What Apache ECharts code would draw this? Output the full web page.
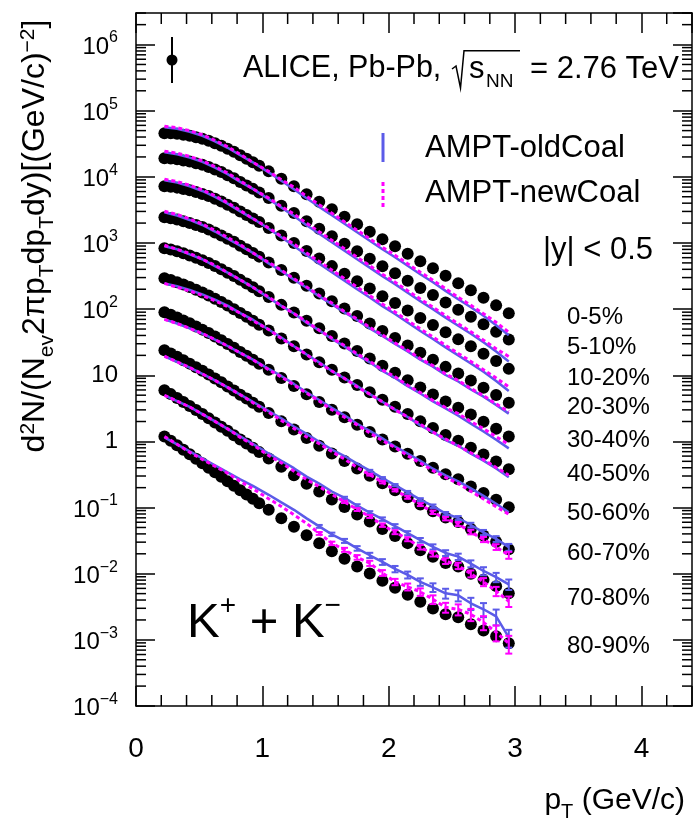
<!DOCTYPE html>
<html><head><meta charset="utf-8">
<script src="https://cdn.jsdelivr.net/npm/echarts@6/dist/echarts.min.js"></script>
<style>html,body{margin:0;padding:0;background:#fff}#c{width:695px;height:825px}</style>
</head><body><div id="c"></div>
<script>
// ---------------- data ----------------
const ptData = [0.225,0.275,0.325,0.375,0.425,0.475,0.525,0.575,0.625,0.675,0.725,0.775,0.825,0.875,0.925,0.975,1.05,1.15,1.25,1.35,1.45,1.55,1.65,1.75,1.85,1.95,2.05,2.15,2.25,2.35,2.45,2.55,2.65,2.75,2.85,2.95];
const ptModel = [0.225,0.325,0.425,0.525,0.625,0.725,0.825,0.925,1.05,1.15,1.25,1.35,1.45,1.55,1.65,1.75,1.85,1.95,2.05,2.15,2.25,2.35,2.45,2.55,2.65,2.75,2.85,2.95];
const centralityLabels = ['0-5%','5-10%','10-20%','20-30%','30-40%','40-50%','50-60%','60-70%','70-80%','80-90%'];
const xTickLabels = ['0','1','2','3','4'];
const yTickExponents = [-4,-3,-2,-1,0,1,2,3,4,5,6];

const alice_0_5 = [45600,45600,44800,43300,41800,39700,37700,35200,32200,29500,26600,23900,21200,18700,16600,14700,12100,9350,7210,5460,4200,3240,2490,1920,1480,1140,893,687,530,415,319,246,193,149,114,86.7];
const alice_5_10 = [19100,19000,18500,17700,17000,16100,15200,14100,12900,11800,10600,9510,8390,7410,6580,5810,4780,3670,2830,2140,1640,1260,975,750,579,446,350,269,208,163,126,97.7,76.6,59.2,45.6,34.7];
const alice_10_20 = [7210,7100,6870,6560,6270,5890,5520,5120,4660,4240,3790,3400,3000,2650,2340,2070,1690,1300,1000,755,581,447,344,265,205,157,124,95.3,73.5,57.7,44.6,34.9,27.4,21.2,16.4,12.5];
const alice_20_30 = [2450,2370,2260,2140,2010,1870,1740,1600,1440,1300,1160,1040,910,804,708,622,509,390,299,225,173,132,102,78.5,60.8,46.8,36.6,28.3,21.9,17.2,13.4,10.6,8.34,6.50,5.05,3.85];
const alice_30_40 = [832,794,748,697,649,597,548,499,448,402,356,316,277,244,214,187,153,116,88.9,66.8,51.2,39.3,30.3,23.3,18.0,13.9,10.9,8.43,6.53,5.14,4.02,3.24,2.55,1.99,1.56,1.19];
const alice_40_50 = [292,275,255,235,216,197,179,161,144,128,113,99.8,87.1,76.6,66.8,58.3,47.5,36.1,27.4,20.6,15.7,12.1,9.29,7.14,5.55,4.27,3.35,2.59,2.01,1.59,1.25,1.02,0.804,0.632,0.497,0.381];
const alice_50_60 = [89.5,82.2,74.8,67.5,61.0,54.7,49.0,43.6,38.5,33.9,29.7,26.0,22.5,19.8,17.2,14.9,12.1,9.12,6.90,5.18,3.94,3.01,2.32,1.78,1.39,1.07,0.838,0.652,0.507,0.401,0.318,0.267,0.209,0.166,0.131,0.101];
const alice_60_70 = [23.9,21.4,19.1,16.9,15.0,13.2,11.7,10.3,8.95,7.82,6.79,5.89,5.09,4.45,3.85,3.33,2.68,2.01,1.51,1.13,0.861,0.655,0.505,0.388,0.303,0.233,0.183,0.143,0.111,0.0881,0.0705,0.0605,0.0474,0.0379,0.0303,0.0235];
const alice_70_80 = [5.93,5.19,4.53,3.94,3.44,2.99,2.59,2.24,1.94,1.67,1.45,1.24,1.07,0.933,0.802,0.689,0.552,0.413,0.309,0.230,0.175,0.132,0.102,0.0785,0.0615,0.0473,0.0371,0.0290,0.0227,0.0180,0.0145,0.0128,0.0100,0.00807,0.00649,0.00506];
const alice_80_90 = [1.19,1.02,0.873,0.746,0.638,0.546,0.467,0.399,0.341,0.292,0.249,0.213,0.182,0.158,0.136,0.116,0.0925,0.0687,0.0512,0.0380,0.0288,0.0218,0.0168,0.0129,0.0101,0.00780,0.00611,0.00480,0.00376,0.00299,0.00243,0.00219,0.00172,0.00139,0.00113,0.000885];

const oldCoal_0_5 = [56200,53300,48000,41800,34500,27500,21200,16600,11700,8730,6500,4750,3520,2620,1950,1450,1080,804,610,453,337,255,189,141,107,79.4,57.0,40.3];
const oldCoal_5_10 = [23600,22000,19500,16900,13800,11000,8390,6580,4610,3430,2550,1860,1380,1030,764,568,424,315,239,177,132,100,74.5,56.0,42.4,31.6,22.8,16.1];
const oldCoal_10_20 = [8890,8180,7190,6120,4990,3930,3000,2340,1640,1220,902,658,488,362,270,200,150,111,84.3,62.8,46.7,35.4,26.4,20.0,15.1,11.3,8.18,5.79];
const oldCoal_20_30 = [2920,2600,2230,1870,1490,1160,910,708,492,377,279,210,156,119,88.9,68.4,51.1,39.3,29.7,23.0,17.2,13.5,10.1,8.05,6.10,4.75,3.56,2.63];
const oldCoal_30_40 = [891,802,671,568,448,356,277,214,148,112,85.9,62.4,47.8,35.4,27.3,20.3,15.7,11.6,9.14,6.84,5.30,4.03,3.15,2.45,1.86,1.41,1.06,0.785];
const oldCoal_40_50 = [245,222,195,167,139,113,87.1,69.2,49.2,37.3,27.4,20.6,15.7,11.6,8.97,6.90,5.18,3.98,3.02,2.34,1.75,1.38,1.05,0.859,0.652,0.513,0.389,0.288];
const oldCoal_50_60 = [70.1,60.7,51.2,42.7,34.7,27.7,21.8,17.2,12.5,9.77,7.40,5.55,4.23,3.22,2.48,1.85,1.44,1.11,0.838,0.652,0.507,0.387,0.307,0.249,0.195,0.150,0.114,0.0851];
const oldCoal_60_70 = [19.4,16.0,13.1,10.5,8.36,6.56,5.09,3.98,2.87,2.23,1.68,1.30,0.989,0.752,0.601,0.462,0.361,0.278,0.218,0.170,0.132,0.105,0.0809,0.0695,0.0545,0.0421,0.0336,0.0252];
const oldCoal_70_80 = [4.98,4.08,3.32,2.59,2.01,1.55,1.19,0.920,0.658,0.509,0.394,0.294,0.231,0.175,0.140,0.107,0.0841,0.0670,0.0525,0.0411,0.0321,0.0255,0.0206,0.0181,0.0142,0.0110,0.00887,0.00692];
const oldCoal_80_90 = [1.15,0.904,0.708,0.556,0.436,0.341,0.267,0.213,0.156,0.120,0.0925,0.0687,0.0520,0.0394,0.0314,0.0242,0.0190,0.0151,0.0118,0.00962,0.00753,0.00622,0.00506,0.00471,0.00357,0.00290,0.00226,0.00109];

const newCoal_0_5 = [58200,55200,49800,43300,35700,28500,21900,16600,12100,9040,6970,5090,3780,2820,2090,1560,1160,861,653,485,361,274,203,151,114,85.1,63.2,44.8];
const newCoal_5_10 = [24400,22800,20300,17500,14300,11400,8690,6580,4780,3550,2740,2000,1480,1100,818,608,454,337,256,190,142,107,79.8,60.0,45.4,33.9,25.2,19.2];
const newCoal_10_20 = [9200,8470,7460,6340,5160,4060,3100,2340,1690,1260,966,705,524,389,289,215,160,119,90.4,67.3,50.1,38.0,28.3,21.4,16.2,12.1,9.08,6.67];
const newCoal_20_30 = [3020,2700,2310,1930,1550,1210,942,708,509,390,288,217,161,124,92.0,70.8,53.0,40.7,30.8,23.8,17.8,14.0,10.5,8.34,6.31,4.92,3.69,2.82];
const newCoal_30_40 = [923,802,695,568,463,356,277,214,153,112,85.9,64.6,47.8,36.6,28.2,21.0,16.3,12.1,9.48,7.08,5.48,4.17,3.26,2.63,2.00,1.56,1.18,0.902];
const newCoal_40_50 = [245,214,188,161,134,109,87.1,66.8,49.2,36.1,27.4,20.6,15.2,11.6,8.97,6.67,5.18,3.98,3.02,2.34,1.82,1.38,1.09,0.859,0.675,0.531,0.403,0.309];
const newCoal_50_60 = [70.1,60.7,51.2,42.7,34.7,27.7,21.8,17.2,12.1,9.44,7.14,5.36,4.08,3.01,2.32,1.78,1.34,1.03,0.809,0.608,0.473,0.361,0.286,0.232,0.176,0.135,0.103,0.0794];
const newCoal_60_70 = [19.4,16.0,13.1,10.5,8.36,6.56,5.09,3.85,2.77,2.08,1.57,1.17,0.923,0.702,0.541,0.402,0.314,0.242,0.183,0.143,0.111,0.0851,0.0681,0.0565,0.0428,0.0330,0.0254,0.0191];
const newCoal_70_80 = [4.98,4.08,3.32,2.59,2.01,1.55,1.15,0.889,0.612,0.474,0.355,0.264,0.208,0.158,0.122,0.0935,0.0733,0.0543,0.0426,0.0333,0.0252,0.0200,0.0156,0.0132,0.0100,0.00753,0.00545,0.00383];
const newCoal_80_90 = [1.19,0.904,0.684,0.536,0.421,0.330,0.249,0.192,0.136,0.104,0.0776,0.0577,0.0407,0.0288,0.0230,0.0177,0.0144,0.0103,0.00753,0.00634,0.00532,0.00409,0.00310,0.00289,0.00243,0.00184,0.00130,0.000885];

// relative statistical uncertainties of the model curves, per ptModel point
const modelRelErr_60_70 = [0,0,0,0,0,0,0,0,0,0,0,0,0,0,0,0,0.03,0.04,0.04,0.05,0.05,0.06,0.06,0.07,0.08,0.09,0.10,0.12];
const modelRelErr_70_80 = [0,0,0,0,0,0,0,0,0,0,0,0,0,0,0.04,0.05,0.05,0.06,0.07,0.07,0.08,0.09,0.10,0.11,0.12,0.14,0.16,0.18];
const modelRelErr_80_90 = [0,0,0,0,0,0,0,0,0,0,0,0,0.05,0.06,0.07,0.08,0.09,0.10,0.11,0.12,0.13,0.15,0.17,0.19,0.21,0.24,0.27,0.30];

// ---------------- build ----------------
const aliceSets = [alice_0_5,alice_5_10,alice_10_20,alice_20_30,alice_30_40,alice_40_50,alice_50_60,alice_60_70,alice_70_80,alice_80_90];
const oldSets = [oldCoal_0_5,oldCoal_5_10,oldCoal_10_20,oldCoal_20_30,oldCoal_30_40,oldCoal_40_50,oldCoal_50_60,oldCoal_60_70,oldCoal_70_80,oldCoal_80_90];
const newSets = [newCoal_0_5,newCoal_5_10,newCoal_10_20,newCoal_20_30,newCoal_30_40,newCoal_40_50,newCoal_50_60,newCoal_60_70,newCoal_70_80,newCoal_80_90];
const errSets = {7: modelRelErr_60_70, 8: modelRelErr_70_80, 9: modelRelErr_80_90};

const FF = '"Liberation Sans", Arial, Helvetica, sans-serif';
const BLUE = '#5b5be8';
const MAG = '#ff00ff';
const X_MIN = 0, X_MAX = 4.4, Y_MIN = 1e-4, Y_MAX = 3e6;

function rs(size, padBottom) {
  return {fontSize: size, fontFamily: FF, color: '#000', fill: '#000', verticalAlign: 'bottom', padding: [0, 0, padBottom || 0, 0]};
}

function errSeries(vals, rel, color, z) {
  const data = [];
  rel.forEach((r, i) => { if (r > 0) data.push([ptModel[i], vals[i], r]); });
  return {type: 'custom', data: data, z: z, silent: true, clip: false,
    renderItem: (p, api) => {
      const x = api.value(0), y = api.value(1), r = api.value(2);
      const a = api.coord([x, y * (1 + r)]), b = api.coord([x, y * (1 - r)]);
      const st = {stroke: color, lineWidth: 2};
      return {type: 'group', children: [
        {type: 'line', shape: {x1: a[0], y1: a[1], x2: b[0], y2: b[1]}, style: st},
        {type: 'line', shape: {x1: a[0] - 3.5, y1: a[1], x2: a[0] + 3.5, y2: a[1]}, style: st},
        {type: 'line', shape: {x1: b[0] - 3.5, y1: b[1], x2: b[0] + 3.5, y2: b[1]}, style: st}
      ]};
    }};
}

const series = [];
aliceSets.forEach((arr, k) => {
  series.push({type: 'scatter', name: 'ALICE ' + centralityLabels[k], data: ptData.map((x, i) => [x, arr[i]]),
    symbol: 'circle', symbolSize: 12, itemStyle: {color: '#000', opacity: 1}, z: 2, silent: true});
});
oldSets.forEach((arr, k) => {
  series.push({type: 'line', name: 'AMPT-oldCoal ' + centralityLabels[k], data: ptModel.map((x, i) => [x, arr[i]]),
    symbol: 'none', showSymbol: false, lineStyle: {color: BLUE, width: 2.5}, z: 3, silent: true});
  if (errSets[k]) series.push(errSeries(arr, errSets[k], BLUE, 3));
});
newSets.forEach((arr, k) => {
  series.push({type: 'line', name: 'AMPT-newCoal ' + centralityLabels[k], data: ptModel.map((x, i) => [x, arr[i]]),
    symbol: 'none', showSymbol: false, lineStyle: {color: MAG, width: 3, type: [4, 3]}, z: 4, silent: true});
  if (errSets[k]) series.push(errSeries(arr, errSets[k], MAG, 4));
});

// minor ticks (axis decoration)
const xMinor = [];
for (let i = 1; i < 22; i++) { if (i % 5 !== 0) xMinor.push([i * 0.2, 1]); }
const yMinor = [];
for (let e = -4; e <= 6; e++) for (let m = 2; m <= 9; m++) { const v = m * Math.pow(10, e); if (v <= Y_MAX) yMinor.push([1, v]); }
series.push({type: 'custom', data: xMinor, silent: true, z: 10, clip: false,
  renderItem: (p, api) => {
    const x = api.value(0);
    const b = api.coord([x, Y_MIN]); const t = api.coord([x, Y_MAX]);
    return {type: 'group', children: [
      {type: 'line', shape: {x1: b[0], y1: b[1], x2: b[0], y2: b[1] - 11}, style: {stroke: '#000', lineWidth: 1.5}},
      {type: 'line', shape: {x1: t[0], y1: t[1], x2: t[0], y2: t[1] + 11}, style: {stroke: '#000', lineWidth: 1.5}}
    ]};
  }});
series.push({type: 'custom', data: yMinor, silent: true, z: 10, clip: false,
  renderItem: (p, api) => {
    const v = api.value(1);
    const l = api.coord([X_MIN, v]); const r = api.coord([X_MAX, v]);
    return {type: 'group', children: [
      {type: 'line', shape: {x1: l[0], y1: l[1], x2: l[0] + 10, y2: l[1]}, style: {stroke: '#000', lineWidth: 1.5}},
      {type: 'line', shape: {x1: r[0], y1: r[1], x2: r[0] - 10, y2: r[1]}, style: {stroke: '#000', lineWidth: 1.5}}
    ]};
  }});

const axLine = {show: true, onZero: false, lineStyle: {color: '#000', width: 1.5}};
function xAx(pos, labels) {
  return {type: 'value', position: pos, min: X_MIN, max: X_MAX, interval: 1,
    axisLine: axLine, splitLine: {show: false},
    axisTick: {show: true, inside: true, length: 20, lineStyle: {color: '#000', width: 1.5}},
    axisLabel: {show: labels, margin: 29, fontSize: 28, fontFamily: FF, color: '#000',
      formatter: v => { const r = Math.round(v); return Math.abs(v - r) < 1e-6 && xTickLabels[r] !== undefined ? xTickLabels[r] : ''; }}};
}
function yAx(pos, labels) {
  return {type: 'log', logBase: 10, position: pos, min: Y_MIN, max: Y_MAX, interval: 1, splitNumber: 10,
    axisLine: axLine, splitLine: {show: false},
    axisTick: {show: true, inside: true, length: 19, lineStyle: {color: '#000', width: 1.5}},
    axisLabel: {show: labels, margin: 18, fontFamily: FF, color: '#000', showMaxLabel: false,
      formatter: v => {
        const lg = Math.log10(v); const e = Math.round(lg);
        if (Math.abs(lg - e) > 0.01 || yTickExponents.indexOf(e) < 0) return '';
        if (e === 0) return '{m|1}';
        if (e === 1) return '{m|10}';
        return '{m|10}{s|' + (e < 0 ? '\u2212' + (-e) : String(e)) + '}';
      },
      rich: {m: rs(24, 0), s: rs(16, 13)}}};
}

function txt(x, y, t, size, align) {
  return {type: 'text', x: x, y: y, style: {text: t, font: size + 'px ' + FF, fill: '#000',
    align: align || 'left', verticalAlign: 'middle', textAlign: align || 'left', textVerticalAlign: 'middle'}};
}

const graphic = [
  // legend: ALICE marker
  {type: 'line', shape: {x1: 172, y1: 37, x2: 172, y2: 83}, style: {stroke: '#000', lineWidth: 2}},
  {type: 'circle', shape: {cx: 172, cy: 60, r: 5.5}, style: {fill: '#000'}},
  // legend: models
  {type: 'line', shape: {x1: 383, y1: 133, x2: 383, y2: 162}, style: {stroke: BLUE, lineWidth: 3}},
  {type: 'line', shape: {x1: 383, y1: 182, x2: 383, y2: 208}, style: {stroke: MAG, lineWidth: 3, lineDash: [4, 3]}},
  txt(425, 148, 'AMPT-oldCoal', 31),
  txt(425, 193, 'AMPT-newCoal', 31),
  txt(543, 250, '|y| < 0.5', 31),
  // header
  txt(243, 69, 'ALICE, Pb-Pb,', 30.5),
  {type: 'polyline', shape: {points: [[452, 69], [456, 66], [460.5, 88], [464, 50.7], [520, 50.7]]}, style: {stroke: '#000', lineWidth: 1.5, fill: null}},
  txt(469, 69, 's', 31),
  txt(486, 82, 'NN', 19),
  txt(679, 69, '= 2.76 TeV', 31, 'right'),
  // K+ + K-
  {type: 'text', x: 187, y: 648, style: {text: '{m|K}{sp|+}{m| + K}{sp|\u2212}',
    rich: {m: rs(49, 0), sp: rs(28, 28)}, align: 'left', verticalAlign: 'bottom', textAlign: 'left', textVerticalAlign: 'bottom'}},
  // x title
  {type: 'text', x: 685, y: 822, style: {text: '{m|p}{sb|T}{m| (GeV/c)}',
    rich: {m: rs(30, 6), sb: rs(20, 0)}, align: 'right', verticalAlign: 'bottom', textAlign: 'right', textVerticalAlign: 'bottom'}},
  // y title
  {type: 'text', x: 38, y: 236, rotation: Math.PI / 2, style: {text: '{m|d}{sp|2}{m|N/(N}{sb|ev}{m|2\u03C0p}{sb|T}{m|dp}{sb|T}{m|dy)[(GeV/c)}{sp|\u22122}{m|]}',
    rich: {m: rs(32, 7), sp: rs(21, 19), sb: rs(21, 0)}, align: 'center', verticalAlign: 'middle', textAlign: 'center', textVerticalAlign: 'middle'}}
];
const labelYs = [317, 347, 378, 407, 440, 474, 513, 553, 598, 646];
centralityLabels.forEach((t, k) => { graphic.push(txt(567, labelYs[k], t, 24)); });

const chart = echarts.init(document.getElementById('c'), null, {renderer: 'canvas'});
chart.setOption({
  animation: false,
  backgroundColor: '#fff',
  grid: {left: 136, right: 3, top: 13, bottom: 119, containLabel: false},
  xAxis: [xAx('bottom', true), xAx('top', false)],
  yAxis: [yAx('left', true), yAx('right', false)],
  series: series,
  graphic: graphic
});
</script>
</body></html>
